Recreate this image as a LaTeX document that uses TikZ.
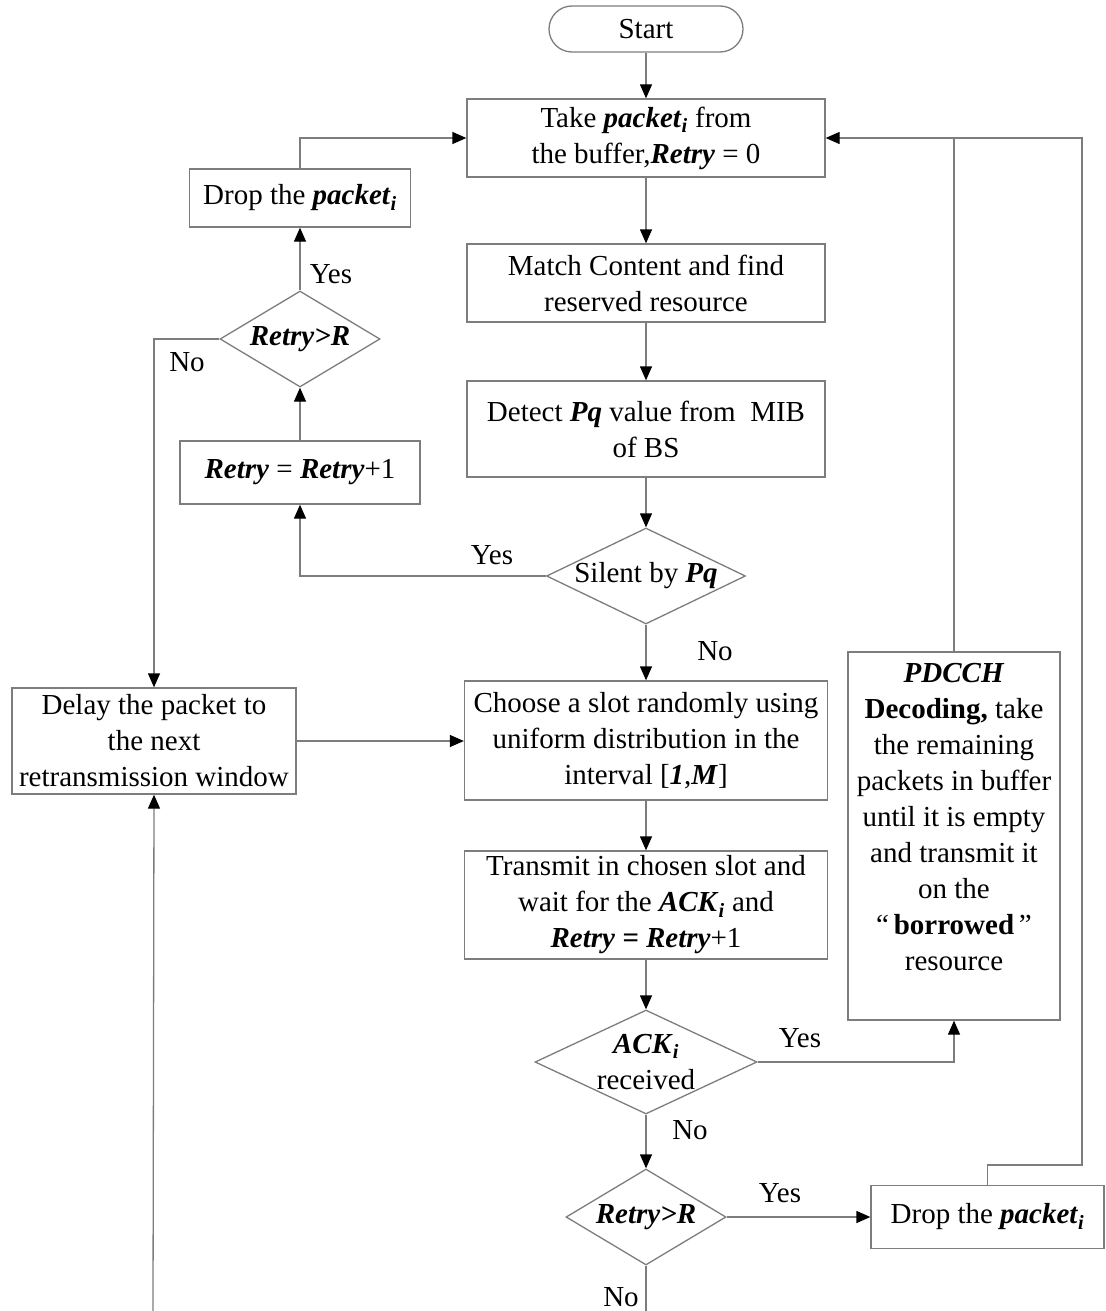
\documentclass[tikz,border=0pt]{standalone}
\usepackage{fontspec}
\setmainfont{Liberation Serif}
\usetikzlibrary{arrows.meta,shapes.geometric}
\definecolor{lg}{RGB}{125,125,125}
\newcommand\myfs{\fontsize{29}{36}\selectfont}
\newcommand\bitx[1]{\textbf{\textit{#1}}}
\newcommand\sbi{\textsubscript{\bitx{i}}}
\tikzset{
  ln/.style={draw=lg, line width=1.3pt},
  box/.style={ln, rectangle, inner sep=0pt, align=center, font=\myfs},
  dia/.style={ln, diamond, inner sep=0pt},
  arr/.style={ln, -{Triangle[length=14pt,width=12pt,color=black]}},
  lbl/.style={font=\myfs, inner sep=0pt, align=center},
}
\begin{document}
\begin{tikzpicture}[x=1pt,y=-1pt]
\useasboundingbox (0,0) rectangle (1105,1311);
% nodes
\node[box, rounded corners=23pt, minimum width=194pt, minimum height=46pt] (start) at (646,29) {Start};
\node[box, minimum width=358pt, minimum height=78pt] (take) at (646,138) {Take \bitx{packet}\sbi{} from\\the buffer,\bitx{Retry} = 0};
\node[box, minimum width=358pt, minimum height=78pt] (match) at (646,283) {Match Content and find\\reserved resource};
\node[box, minimum width=358pt, minimum height=96pt] (detect) at (646,429) {Detect \bitx{Pq} value from\ \ MIB\\of BS};
\node[dia, minimum width=199pt, minimum height=96pt] (silent) at (646,576) {};
\node[lbl] (silentT) at (silent.center) {Silent by \bitx{Pq}};
\node[box, minimum width=363pt, minimum height=119pt] (choose) at (646,740.5) {Choose a slot randomly using\\uniform distribution in the\\interval [\bitx{1},\bitx{M}]};
\node[box, minimum width=363pt, minimum height=108pt] (trans) at (646,905) {Transmit in chosen slot and\\wait for the \bitx{ACK}\sbi{} and\\\bitx{Retry = Retry}+1};
\node[dia, minimum width=222pt, minimum height=104pt] (ack) at (646,1062) {};
\node[lbl] (ackT) at (646,1062) {\bitx{ACK}\sbi\\received};
\node[dia, minimum width=160pt, minimum height=96pt] (r2) at (646,1217) {};
\node[lbl] (r2T) at (r2.center) {\bitx{Retry>R}};
\node[box, minimum width=233pt, minimum height=63pt] (drop2) at (987.5,1217) {Drop the \bitx{packet}\sbi};
\node[box, minimum width=212pt, minimum height=368pt] (pdcch) at (954,836) {};
\node[lbl] (pdcchT) at (954,817) {\bitx{PDCCH}\\\textbf{Decoding,} take\\the remaining\\packets in buffer\\until it is empty\\and transmit it\\on the\\“\,\textbf{borrowed}\,”\\resource};
\node[box, minimum width=284pt, minimum height=106pt] (delay) at (154,741) {Delay the packet to\\the next\\retransmission window};
\node[box, minimum width=240pt, minimum height=63pt] (inc) at (300,472.5) {\bitx{Retry} = \bitx{Retry}+1};
\node[dia, minimum width=160pt, minimum height=96pt] (r1) at (300,339) {};
\node[lbl] (r1T) at (r1.center) {\bitx{Retry>R}};
\node[box, minimum width=221pt, minimum height=58pt] (drop1) at (300,198) {Drop the \bitx{packet}\sbi};
% free ends
\coordinate (jr) at (1082,1165);
\coordinate (bl) at (153,1311);
\coordinate (br) at (646,1311);
% connectors
\draw[arr] (start) -- (take);
\draw[arr] (take) -- (match);
\draw[arr] (match) -- (detect);
\draw[arr] (detect) -- (silent);
\draw[arr] (silent) -- (choose);
\draw[arr] (choose) -- (trans);
\draw[arr] (trans) -- (ack);
\draw[arr] (ack) -- (r2);
\draw[ln] (r2.south) -- (br);
\draw[arr] (r2.east) -- (drop2.west);
\draw[arr] (drop2.north) |- (jr) |- (take.east);
\draw[ln] (pdcch.north) -- (pdcch.north |- take.east);
\draw[arr] (ack.east) -| (pdcch.south);
\draw[arr] (silent.west) -| (inc.south);
\draw[arr] (inc.north) -- (r1.south);
\draw[arr] (r1.north) -- (drop1.south);
\draw[arr] (drop1.north) |- (take.west);
\draw[arr] (r1.west) -| (delay.north);
\draw[arr] (delay.east) -- (delay.east -| choose.west);
\draw[arr] (bl) -- (delay.south);
% labels
\node[lbl] (l1) at (492,555) {Yes};
\node[lbl] (l2) at (331,274) {Yes};
\node[lbl] (l3) at (187,362) {No};
\node[lbl] (l4) at (715,651) {No};
\node[lbl] (l5) at (800,1038) {Yes};
\node[lbl] (l6) at (690,1130) {No};
\node[lbl] (l7) at (780,1193) {Yes};
\node[lbl] (l8) at (621,1297) {No};
\end{tikzpicture}
\end{document}
